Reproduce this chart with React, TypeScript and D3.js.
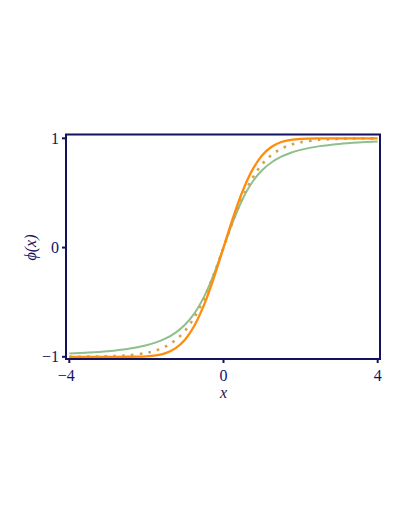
import React from 'react';
import * as d3 from 'd3';

// sample points
const xs = [-4, -3.5, -3, -2.5, -2, -1.75, -1.5, -1.25, -1, -0.75, -0.5, -0.25, 0,
  0.25, 0.5, 0.75, 1, 1.25, 1.5, 1.75, 2, 2.5, 3, 3.5, 4];

const greenHalf = [0, 0.2425, 0.4472, 0.6, 0.7071, 0.7809, 0.8321, 0.8682, 0.8944, 0.9285, 0.9487, 0.9615, 0.9701];
const orangeHalf = [0, 0.2763, 0.5205, 0.7112, 0.8427, 0.9229, 0.9661, 0.9867, 0.9953, 0.9996, 1.0, 1.0, 1.0];
const dottedHalf = [0, 0.2449, 0.4621, 0.6351, 0.7616, 0.8483, 0.9051, 0.9414, 0.964, 0.9866, 0.9951, 0.9982, 0.9993];

const mirror = (half: number[]) => [...half.slice(1).reverse().map(v => -v), ...half];

const greenVals = mirror(greenHalf);
const orangeVals = mirror(orangeHalf);
const dottedVals = mirror(dottedHalf);

const xTicks = [-4, 0, 4];
const yTicks = [-1, 0, 1];

const W = 409;
const H = 529;
const navy = '#12125e';

const App = () => {
  const x = d3.scaleLinear().domain([-4.086, 4.06]).range([66, 380]);
  const y = d3.scaleLinear().domain([-1.02, 1.035]).range([359, 134.5]);

  const line = d3.line<number>()
    .x((_, i) => x(xs[i]))
    .y(d => y(d))
    .curve(d3.curveCatmullRom.alpha(0.5));

  const fmt = (v: number) => (v < 0 ? '\u2212' + Math.abs(v) : String(v));

  return (
    <svg width={W} height={H} style={{ position: 'absolute', left: 0, top: 0, background: '#fff' }}
      fontFamily="'Liberation Serif', 'DejaVu Serif', serif">
      <path d={line(greenVals) || ''} fill="none" stroke="#8fbf8c" strokeWidth={2} />
      <path d={line(dottedVals) || ''} fill="none" stroke="#d4a14c" strokeWidth={2.6}
        strokeDasharray="2.6 6.2" />
      <path d={line(orangeVals) || ''} fill="none" stroke="#ff8c0a" strokeWidth={2.3} />

      <rect x={66} y={134.5} width={314} height={224.5} fill="none" stroke={navy} strokeWidth={2} />

      {yTicks.map(t => (
        <g key={'y' + t}>
          <line x1={62} x2={66} y1={y(t)} y2={y(t)} stroke={navy} strokeWidth={2} />
          <text x={59} y={y(t) + 5.5} textAnchor="end" fontSize={16} fill={navy}>{fmt(t)}</text>
        </g>
      ))}
      {xTicks.map(t => (
        <g key={'x' + t}>
          <line x1={x(t)} x2={x(t)} y1={359} y2={363} stroke={navy} strokeWidth={2} />
          <text x={x(t) + (t < 0 ? -3 : 0)} y={381} textAnchor="middle" fontSize={16} fill={navy}>{fmt(t)}</text>
        </g>
      ))}

      <text x={x(0)} y={398} textAnchor="middle" fontSize={16} fontStyle="italic" fill={navy}>x</text>
      <text transform={`translate(36, ${y(0)}) rotate(-90)`} textAnchor="middle" fontSize={16}
        fontStyle="italic" fill={navy}>{'\u03d5(x)'}</text>
    </svg>
  );
};

export default App;
